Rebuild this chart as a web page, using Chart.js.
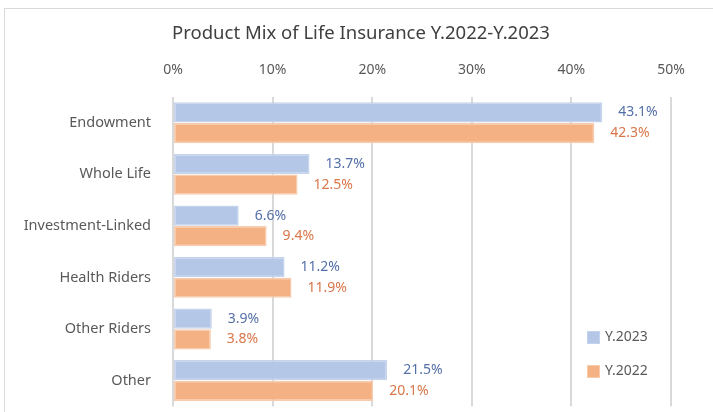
<!DOCTYPE html>
<html>
<head>
<meta charset="utf-8">
<script src="https://cdn.jsdelivr.net/npm/chart.js@4"></script>
<style>
  html, body { margin: 0; padding: 0; background: #fff; }
  #wrap { position: relative; width: 713px; height: 412px; overflow: hidden; }
  #frame { position: absolute; left: 4px; top: 8px; width: 760px; height: 460px; border: 1.5px solid #d9d9d9; box-sizing: border-box; }
  canvas { position: absolute; left: 0; top: 0; }
</style>
</head>
<body>
<div id="wrap">
  <div id="frame"></div>
  <!-- canvas is a bit taller than the window, the bottom gets cut like in the original -->
  <canvas id="chart" width="713" height="429"></canvas>
</div>
<script>
// chart data
const categories = ["Endowment", "Whole Life", "Investment-Linked", "Health Riders", "Other Riders", "Other"];
const y2023 = [43.1, 13.7, 6.6, 11.2, 3.9, 21.5];
const y2022 = [42.3, 12.5, 9.4, 11.9, 3.8, 20.1];
const xTicks = [0, 10, 20, 30, 40, 50];
const chartTitle = "Product Mix of Life Insurance Y.2022-Y.2023";

const FONT = "'Noto Sans', 'Open Sans', sans-serif";
const labelColors = ["#5470a8", "#d9764a"];

// title, value labels and the little legend bottom-right
const extras = {
  id: "extras",
  afterDraw(chart) {
    const c = chart.ctx;
    c.save();
    c.font = "18.5px " + FONT;
    c.fillStyle = "#404040";
    c.textAlign = "center";
    c.textBaseline = "middle";
    c.fillText(chartTitle, 361, 34);

    c.font = "14px " + FONT;
    c.textAlign = "left";
    chart.data.datasets.forEach((ds, i) => {
      const meta = chart.getDatasetMeta(i);
      meta.data.forEach((bar, j) => {
        c.fillStyle = labelColors[i];
        c.fillText(ds.data[j].toFixed(1) + "%", bar.x + 16, bar.y);
      });
    });

    // legend
    const items = [
      { text: chart.data.datasets[0].label, ds: chart.data.datasets[0], y: 337 },
      { text: chart.data.datasets[1].label, ds: chart.data.datasets[1], y: 371 }
    ];
    c.font = "14px " + FONT;
    items.forEach(it => {
      c.fillStyle = it.ds.backgroundColor;
      c.fillRect(587, it.y - 6, 13, 13);
      c.strokeStyle = it.ds.borderColor;
      c.lineWidth = 1;
      c.strokeRect(587.5, it.y - 5.5, 12, 12);
      c.fillStyle = "#595959";
      c.fillText(it.text, 605, it.y);
    });
    c.restore();
  }
};

new Chart(document.getElementById("chart"), {
  type: "bar",
  data: {
    labels: categories,
    datasets: [
      {
        label: "Y.2023",
        data: y2023,
        backgroundColor: "#b4c7e7",
        borderColor: "#c5d3ec",
        borderWidth: 1.5,
        borderSkipped: false,
        categoryPercentage: 0.8,
        barPercentage: 0.98
      },
      {
        label: "Y.2022",
        data: y2022,
        backgroundColor: "#f4b183",
        borderColor: "#f8cbad",
        borderWidth: 1.5,
        borderSkipped: false,
        categoryPercentage: 0.8,
        barPercentage: 0.98
      }
    ]
  },
  options: {
    indexAxis: "y",
    responsive: false,
    animation: false,
    layout: { padding: { left: 0, top: 0, right: 42, bottom: 6 } },
    plugins: {
      legend: { display: false },
      title: { display: false },
      tooltip: { enabled: false }
    },
    scales: {
      x: {
        position: "top",
        min: 0,
        max: 50,
        afterBuildTicks: (axis) => { axis.ticks = xTicks.map(v => ({ value: v })); },
        afterFit: (axis) => { axis.height = 97; },
        grid: { color: "#d9d9d9", lineWidth: 2, drawTicks: false },
        border: { display: false },
        ticks: {
          padding: 19,
          color: "#595959",
          font: { family: FONT, size: 14 },
          callback: (v) => v + "%"
        }
      },
      y: {
        afterFit: (axis) => { axis.width = 173; },
        grid: { display: false },
        border: { display: false },
        ticks: {
          padding: 14,
          color: "#595959",
          font: { family: FONT, size: 14.5 }
        }
      }
    }
  },
  plugins: [extras]
});
</script>
</body>
</html>
